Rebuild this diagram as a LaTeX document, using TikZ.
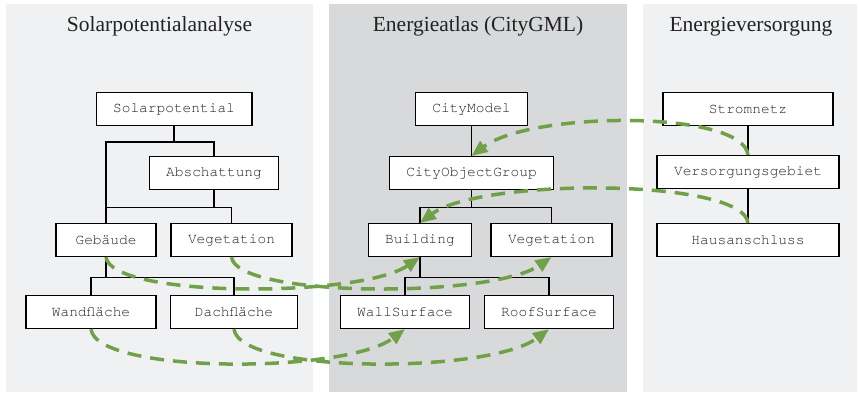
\documentclass[tikz,border=0pt]{standalone}
\usepackage{fontspec}
\setmainfont{Liberation Serif}
\setmonofont{TeX Gyre Cursor}
\usetikzlibrary{arrows.meta,calc}
\definecolor{PanelClr}{HTML}{F0F1F3}
\definecolor{AtlasClr}{HTML}{D8D9DB}
\definecolor{LinkClr}{HTML}{70A048}
\definecolor{TextClr}{HTML}{222222}

\tikzset{
  title/.style={anchor=base,text=TextClr,font=\fontsize{21.5}{26}\selectfont},
  box/.style={draw=black,line width=1.2pt,fill=white,text=TextClr,
    font=\ttfamily\fontsize{14.5}{17}\selectfont,
    inner xsep=17pt,inner ysep=0pt,minimum height=33pt},
  tree/.style={draw=black,line width=1.2pt},
  link/.style={draw=LinkClr,line width=3.5pt,dash pattern=on 14pt off 9pt,
    -{Triangle[length=16pt,width=13pt]}}
}

\begin{document}
\begin{tikzpicture}[x=1pt,y=-1pt]
\useasboundingbox (0,0) rectangle (859,393);

\fill[PanelClr] (6,4) rectangle (313,392);
\fill[AtlasClr] (329,4) rectangle (627,392);
\fill[PanelClr] (643,4) rectangle (857,392);

\node[title] (tsolar) at (159.5,32) {Solarpotentialanalyse};
\node[title] (tatlas) at (478,32) {Energieatlas (CityGML)};
\node[title] (tnetz) at (751,32) {Energieversorgung};

% Solarpotentialanalyse
\node[box] (sol) at (174,109) {Solarpotential};
\node[box] (absch) at (214,173) {Abschattung};
\node[box,minimum width=100pt] (geb) at (106,240) {Gebäude};
\node[box] (vegl) at (231.5,240) {Vegetation};
\node[box,minimum width=130pt] (wand) at (91,312) {Wandfläche};
\node[box,minimum width=127pt] (dach) at (234,312) {Dachfläche};

% Energieatlas
\node[box] (cm) at (471.5,109) {CityModel};
\node[box] (cog) at (471.5,173) {CityObjectGroup};
\node[box] (bld) at (420,240) {Building};
\node[box] (vegm) at (551.5,240) {Vegetation};
\node[box] (wall) at (405,312) {WallSurface};
\node[box] (roof) at (549,312) {RoofSurface};

% Energieversorgung
\node[box,minimum width=170pt] (strom) at (748,109) {Stromnetz};
\node[box,minimum width=182pt] (vers) at (748,172) {Versorgungsgebiet};
\node[box,minimum width=182pt] (haus) at (748,240) {Hausanschluss};

\draw[tree] (sol.south) -- ++(0,16) -| (geb.north);
\draw[tree] (sol.south) ++(0,16) -| (absch.north);
\draw[tree] (absch.south) -- ++(0,17) coordinate (abus) -| (vegl.north);
\draw[tree] (abus) -- (abus -| geb.north);
\draw[tree] (geb.south) -- ++(0,20) -| (wand.north);
\draw[tree] (geb.south) ++(0,20) -| (dach.north);

\draw[tree] (cm.south) -- (cog.north);
\draw[tree] (cog.south) -- ++(0,17) -| (bld.north);
\draw[tree] (cog.south) ++(0,17) -| (vegm.north);
\draw[tree] (bld.south) -- ++(0,20) -| (wall.north);
\draw[tree] (bld.south) ++(0,20) -| (roof.north);

\draw[tree] (strom.south) -- (vers.north);
\draw[tree] (vers.south) -- (haus.north);

\draw[link] (geb.south) .. controls +(5,41) and +(-60,41) .. (bld.south);
\draw[link] (vegl.south) .. controls +(5,41) and +(-60,41) .. (vegm.south);
\draw[link] (wand.south) .. controls +(5,45) and +(-60,45) .. (wall.south);
\draw[link] (dach.south) .. controls +(5,45) and +(-60,45) .. (roof.south);
\draw[link] (vers.north) .. controls +(-5,-45) and +(60,-45) .. (cog.north);
\draw[link] (haus.north) .. controls +(-5,-45) and +(60,-45) .. (bld.north);

\end{tikzpicture}
\end{document}
